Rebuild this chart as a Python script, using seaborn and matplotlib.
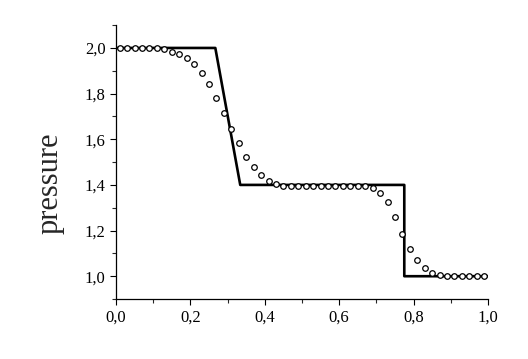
import matplotlib
matplotlib.use("Agg")
import matplotlib.pyplot as plt
from matplotlib.ticker import MultipleLocator, FuncFormatter
import seaborn as sns

# exact solution (piecewise)
exact_x = [0.0, 0.267, 0.334, 0.775, 0.775, 1.0]
exact_p = [2.0, 2.0, 1.4, 1.4, 1.0, 1.0]

# numerical solution at cell centres
num_x = [0.01 + 0.02 * i for i in range(50)]
num_p = [2.0, 2.0, 2.0, 2.0, 2.0, 2.0, 1.995,
         1.983, 1.972, 1.955, 1.928, 1.89, 1.84, 1.78, 1.715, 1.646, 1.582,
         1.523, 1.477, 1.442, 1.417, 1.404,
         1.397, 1.397, 1.397, 1.397, 1.397, 1.397, 1.397, 1.397, 1.397,
         1.397, 1.397, 1.397,
         1.386, 1.364, 1.323, 1.26, 1.187, 1.118, 1.069, 1.035, 1.016, 1.007,
         1.002, 1.0, 1.0, 1.0, 1.0, 1.0]

sns.set_style("ticks")
plt.rcParams['font.family'] = ['Liberation Serif', 'DejaVu Serif']

fig = plt.figure(figsize=(5.28, 3.59), dpi=100)
ax = fig.add_axes([0.2197, 0.167, 0.7045, 0.763])

sns.lineplot(x=exact_x, y=exact_p, ax=ax, color='black', linewidth=1.9,
             sort=False, estimator=None)
sns.scatterplot(x=num_x, y=num_p, ax=ax, marker='o', s=16,
                facecolor='white', edgecolor='black', linewidth=0.9, zorder=3)

ax.set_xlim(0, 1.0)
ax.set_ylim(0.9, 2.1)
ax.xaxis.set_major_locator(MultipleLocator(0.2))
ax.xaxis.set_minor_locator(MultipleLocator(0.1))
ax.yaxis.set_major_locator(MultipleLocator(0.2))
ax.yaxis.set_minor_locator(MultipleLocator(0.1))
comma = FuncFormatter(lambda v, p: f"{v:.1f}".replace('.', ','))
ax.xaxis.set_major_formatter(comma)
ax.yaxis.set_major_formatter(comma)
ax.set_yticks([1.0, 1.2, 1.4, 1.6, 1.8, 2.0])

ax.tick_params(which='major', direction='out', length=4, width=0.8, labelsize=12, colors='black')
ax.tick_params(which='minor', direction='out', length=3, width=0.8)
ax.spines['top'].set_visible(False)
ax.spines['right'].set_visible(False)
for s in ['left', 'bottom']:
    ax.spines[s].set_linewidth(0.9)
    ax.spines[s].set_color('black')

ax.set_xlabel('')
ax.set_ylabel('pressure', fontsize=22, va='center')
ax.yaxis.set_label_coords(-0.177, 0.423)

fig.savefig('out.png', dpi=100)
